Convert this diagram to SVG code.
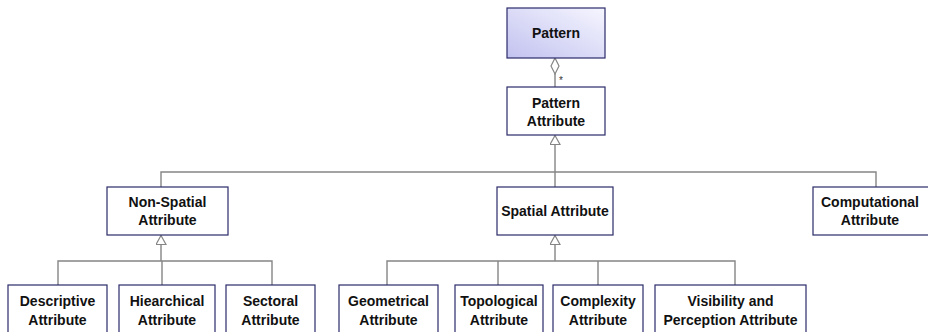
<svg xmlns="http://www.w3.org/2000/svg" width="928" height="332" viewBox="0 0 928 332">
<style>
.box{fill:#ffffff;stroke:#2b2b6b;stroke-width:1.2}
.t{font-family:"Liberation Sans",Arial,sans-serif;font-weight:bold;font-size:14px;fill:#111;text-anchor:middle}
.c{fill:none;stroke:#858585;stroke-width:1.4}
</style>
<defs>
<linearGradient id="pg" x1="0" y1="1" x2="1" y2="0">
<stop offset="0" stop-color="#c2c2f0"/>
<stop offset="1" stop-color="#f6f6ff"/>
</linearGradient>
<marker id="gen" markerUnits="userSpaceOnUse" markerWidth="10" markerHeight="11" viewBox="0 0 10 11" refX="9.5" refY="5.5" orient="auto">
<path d="M0.5,0.5 L9.5,5.5 L0.5,10.5 z" fill="#fff" stroke="#858585" stroke-width="1.2"/>
</marker>
<marker id="agg" markerUnits="userSpaceOnUse" markerWidth="18" markerHeight="10" viewBox="0 0 18 10" refX="0.5" refY="5" orient="auto">
<path d="M0.5,5 L8.5,1 L16.5,5 L8.5,9 z" fill="#fff" stroke="#858585" stroke-width="1.2"/>
</marker>
</defs>
<g id="connectors">
<path class="c" d="M555,58 L555,87" marker-start="url(#agg)"/>
<text x="559" y="84" style="font-family:'Liberation Sans',Arial,sans-serif;font-size:10px;fill:#333">*</text>
<path class="c" d="M555,172 L555,135.5" marker-end="url(#gen)"/>
<path class="c" d="M161,187 L161,172 L876,172 L876,187"/>
<path class="c" d="M555,172 L555,187"/>
<path class="c" d="M161,261 L161,235.5" marker-end="url(#gen)"/>
<path class="c" d="M58,285 L58,261 L272,261 L272,285"/>
<path class="c" d="M162,261 L162,285"/>
<path class="c" d="M555,261 L555,235.5" marker-end="url(#gen)"/>
<path class="c" d="M387,285 L387,261 L735,261 L735,285"/>
<path class="c" d="M498,261 L498,285"/>
<path class="c" d="M598,261 L598,285"/>
</g>
<g id="pattern">
<rect x="507" y="8" width="98" height="50" fill="url(#pg)" stroke="#2b2b6b" stroke-width="1.2"/>
<text class="t" x="556" y="38">Pattern</text>
</g>
<g id="pattern-attribute">
<rect class="box" x="507" y="87" width="98" height="48"/>
<text class="t" x="556" y="108">Pattern</text>
<text class="t" x="556" y="125.5">Attribute</text>
</g>
<g id="non-spatial">
<rect class="box" x="107" y="187" width="121" height="48"/>
<text class="t" x="167.5" y="207">Non-Spatial</text>
<text class="t" x="167.5" y="225">Attribute</text>
</g>
<g id="spatial">
<rect class="box" x="497" y="187" width="116" height="48"/>
<text class="t" x="555" y="216">Spatial Attribute</text>
</g>
<g id="computational">
<rect class="box" x="813" y="187" width="126" height="48"/>
<text class="t" x="870" y="207">Computational</text>
<text class="t" x="870" y="225">Attribute</text>
</g>
<g id="descriptive">
<rect class="box" x="8" y="285" width="99" height="50"/>
<text class="t" x="57.5" y="306">Descriptive</text>
<text class="t" x="57.5" y="324.5">Attribute</text>
</g>
<g id="hiearchical">
<rect class="box" x="119" y="285" width="96" height="50"/>
<text class="t" x="167" y="306">Hiearchical</text>
<text class="t" x="167" y="324.5">Attribute</text>
</g>
<g id="sectoral">
<rect class="box" x="226" y="285" width="89" height="50"/>
<text class="t" x="270.5" y="306">Sectoral</text>
<text class="t" x="270.5" y="324.5">Attribute</text>
</g>
<g id="geometrical">
<rect class="box" x="339" y="285" width="99" height="50"/>
<text class="t" x="388.5" y="306">Geometrical</text>
<text class="t" x="388.5" y="324.5">Attribute</text>
</g>
<g id="topological">
<rect class="box" x="455" y="285" width="88" height="50"/>
<text class="t" x="499" y="306">Topological</text>
<text class="t" x="499" y="324.5">Attribute</text>
</g>
<g id="complexity">
<rect class="box" x="553" y="285" width="90" height="50"/>
<text class="t" x="598" y="306">Complexity</text>
<text class="t" x="598" y="324.5">Attribute</text>
</g>
<g id="visibility">
<rect class="box" x="655" y="285" width="151" height="50"/>
<text class="t" x="730.5" y="306">Visibility and</text>
<text class="t" x="730.5" y="324.5">Perception Attribute</text>
</g>
</svg>
